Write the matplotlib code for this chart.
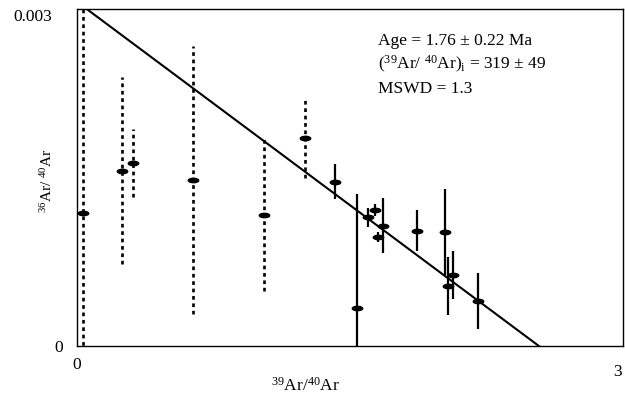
import matplotlib
matplotlib.use("Agg")
import matplotlib.pyplot as plt
import matplotlib.transforms as mtransforms
import numpy as np
from matplotlib.path import Path

plt.rcParams['font.family'] = ['Liberation Serif', 'DejaVu Serif']
plt.rcParams['mathtext.fontset'] = 'custom'
plt.rcParams['mathtext.rm'] = 'Liberation Serif'
plt.rcParams['mathtext.it'] = 'Liberation Serif:italic'

# steps with large errors (dotted bars)
x_dot = [0.032, 0.250, 0.309, 0.642, 1.039, 1.267]
y_dot = [0.001186, 0.001560, 0.001626, 0.001478, 0.001168, 0.001852]
e_dot = [0.0025, 0.00083, 0.00030, 0.00119, 0.00068, 0.000358]

# steps used in the isochron (solid bars)
x_sol = [1.432, 1.554, 1.613, 1.652, 1.670, 1.698, 1.885, 2.044, 2.060, 2.085, 2.225]
y_sol = [0.001460, 0.000339, 0.001144, 0.001212, 0.000971, 0.001071,
         0.001027, 0.001012, 0.000534, 0.000635, 0.000401]
e_sol = [0.000155, 0.001015, 0.000082, 0.000053, 0.000044, 0.000246,
         0.000186, 0.000384, 0.000257, 0.000212, 0.000248]

# isochron line: y = a + b*x
iso_a = 0.00306
iso_xint = 2.564
iso_b = -iso_a / iso_xint

ann = ['Age = 1.76 \u00b1 0.22 Ma',
       r'($^{39}$Ar/ $^{40}$Ar)$_{\rm i}$' + ' = 319 \u00b1 49',
       'MSWD = 1.3']

fig = plt.figure(figsize=(6.25, 3.96), dpi=100)
ax = fig.add_axes([0.1232, 0.126, 0.8736, 0.8525])

# elliptic marker
t = np.linspace(0, 2 * np.pi, 40)
ell = Path(np.column_stack([np.cos(t), 0.42 * np.sin(t)]), closed=True)

eb = ax.errorbar(x_dot, y_dot, yerr=e_dot, fmt='none', ecolor='black',
                 elinewidth=1.9, capsize=0)
eb[2][0].set_linestyle((0, (1.4, 1.4)))
ax.errorbar(x_sol, y_sol, yerr=e_sol, fmt='none', ecolor='black',
            elinewidth=1.6, capsize=0)
ax.plot(x_dot + x_sol, y_dot + y_sol, linestyle='none', marker=ell,
        markersize=7.5, color='black')

xl = np.array([0, iso_xint])
ax.plot(xl, iso_a + iso_b * xl, color='black', lw=1.5)

ax.set_xlim(0, 3.03)
ax.set_ylim(0, 0.003)
ax.set_xticks([0, 3])
ax.set_xticklabels(['0', '3'])
ax.set_yticks([0, 0.003])
ax.set_yticklabels(['0', '0.003'])
ax.tick_params(length=0, labelsize=12.5)
xt = ax.xaxis.get_major_ticks()
xt[0].set_pad(8)
xt[1].set_pad(13)
yt = ax.yaxis.get_major_ticks()
yt[0].set_pad(10)
yt[1].set_pad(18)
yt[1].label1.set_transform(yt[1].label1.get_transform() +
                           mtransforms.ScaledTranslation(0, -5 / 72, fig.dpi_scale_trans))
for s in ax.spines.values():
    s.set_linewidth(1.0)

ax.set_xlabel(r'$^{39}$Ar/$^{40}$Ar', fontsize=12.5)
ax.xaxis.set_label_coords(0.419, -0.092)
ax.set_ylabel(r'$^{36}$Ar/ $^{40}$Ar', fontsize=11)
ax.yaxis.set_label_coords(-0.04, 0.49)

for i, s in enumerate(ann):
    ax.text(0.552, 0.905 - i * 0.071, s, transform=ax.transAxes,
            fontsize=12.5, va='center', ha='left')

fig.savefig('out.png', dpi=100)
